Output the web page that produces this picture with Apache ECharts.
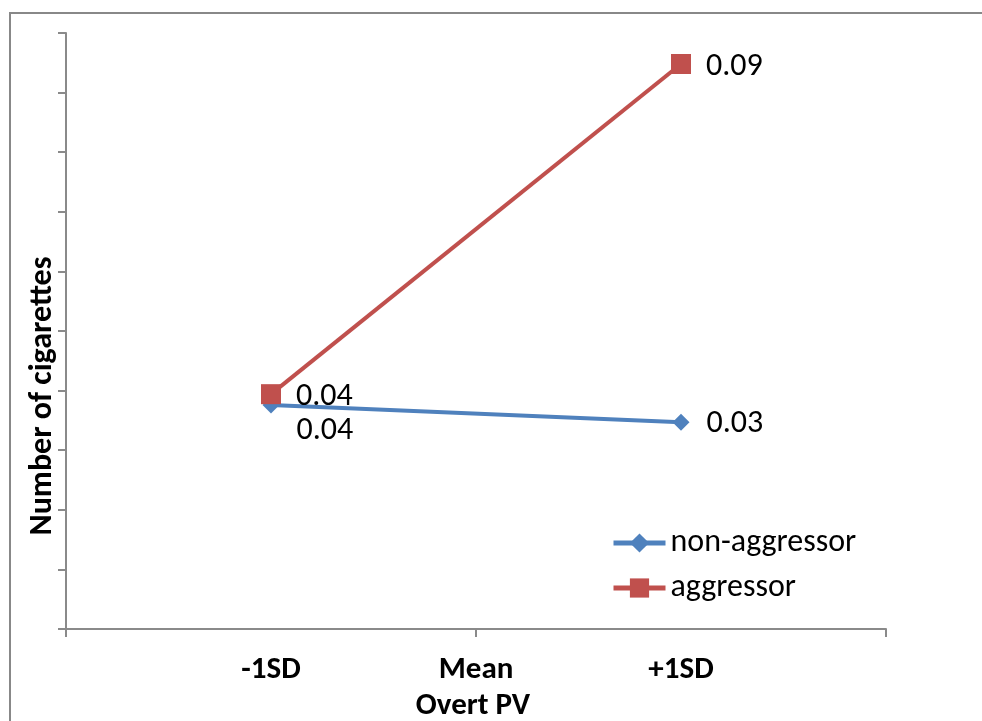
<!DOCTYPE html>
<html>
<head>
<meta charset="utf-8">
<script src="https://cdn.jsdelivr.net/npm/echarts@6/dist/echarts.min.js"></script>
<style>
  html, body { margin: 0; padding: 0; background: #fff; }
  #chart { width: 982px; height: 721px; }
</style>
</head>
<body>
<div id="chart"></div>
<script>
// Overt PV levels and cigarette counts per group
const categories = ['-1SD', 'Mean', '+1SD'];
const nonAggressor = [0.0376, null, 0.0347];
const aggressor = [0.0394, null, 0.0948];
const seriesNames = ['non-aggressor', 'aggressor'];
const yTitle = 'Number of cigarettes';
const xTitle = 'Overt PV';

const FONT = 'Carlito, Lato, sans-serif';
const AXIS_GREY = '#8a8a8a';

// pad the category axis by one empty slot on each side so the points sit at 1/4, 1/2, 3/4
const axisCats = [''].concat(categories, ['']);
const pad = (arr) => [null].concat(arr, [null]);

const chart = echarts.init(document.getElementById('chart'), null, { renderer: 'canvas' });

const fmt = (p) => p.value == null ? '' : p.value.toFixed(2);

chart.setOption({
  animation: false,
  backgroundColor: '#ffffff',
  grid: { left: 66, right: 96, top: 33, bottom: 92, containLabel: false },
  xAxis: {
    type: 'category',
    data: axisCats,
    boundaryGap: false,
    axisLine: { lineStyle: { color: AXIS_GREY, width: 2 } },
    axisTick: { show: true, length: 8, inside: false, interval: (i) => i % 2 === 0,
                lineStyle: { color: AXIS_GREY, width: 2 } },
    axisLabel: { interval: 0, margin: 26, color: '#000', fontFamily: FONT,
                 fontWeight: 'bold', fontSize: 31 },
    splitLine: { show: false }
  },
  yAxis: {
    type: 'value',
    min: 0, max: 0.1, interval: 0.01,
    axisLine: { show: true, lineStyle: { color: AXIS_GREY, width: 2 } },
    axisTick: { show: true, length: 8, lineStyle: { color: AXIS_GREY, width: 2 } },
    axisLabel: { show: false },
    splitLine: { show: false }
  },
  legend: {
    orient: 'vertical',
    left: 606, top: 522,
    itemWidth: 52, itemHeight: 24, itemGap: 13,
    data: seriesNames,
    lineStyle: { width: 5 },
    textStyle: { color: '#000', fontFamily: FONT, fontSize: 32, padding: [0, 0, 0, 0] }
  },
  graphic: [
    { type: 'rect', shape: { x: 10, y: 13, width: 990, height: 720 },
      style: { fill: 'none', stroke: '#888', lineWidth: 2 }, silent: true },
    { type: 'text', x: 43, y: 396, rotation: Math.PI / 2,
      style: { text: yTitle, font: 'bold 32px ' + FONT, fill: '#000',
               align: 'center', verticalAlign: 'middle' } },
    { type: 'text', x: 473, y: 706,
      style: { text: xTitle, font: 'bold 31px ' + FONT, fill: '#000',
               align: 'center', verticalAlign: 'middle' } }
  ],
  series: [
    {
      name: seriesNames[0],
      type: 'line',
      data: pad(nonAggressor),
      connectNulls: true,
      color: '#4f81bd',
      symbol: 'diamond', symbolSize: 17,
      lineStyle: { width: 4, color: '#4f81bd' },
      itemStyle: { color: '#4f81bd' },
      label: { show: true, position: 'right', distance: 17, formatter: fmt,
               color: '#000', fontFamily: FONT, fontSize: 32 },
      labelLayout: (params) => ({ dy: params.dataIndex === 1 ? 26 : 2 }),
      z: 2
    },
    {
      name: seriesNames[1],
      type: 'line',
      data: pad(aggressor),
      connectNulls: true,
      color: '#c0504d',
      symbol: 'rect', symbolSize: 20,
      lineStyle: { width: 4, color: '#c0504d' },
      itemStyle: { color: '#c0504d' },
      label: { show: true, position: 'right', distance: 15, formatter: fmt,
               color: '#000', fontFamily: FONT, fontSize: 32 },
      labelLayout: () => ({ dy: 3 }),
      z: 3
    }
  ]
});
</script>
</body>
</html>
